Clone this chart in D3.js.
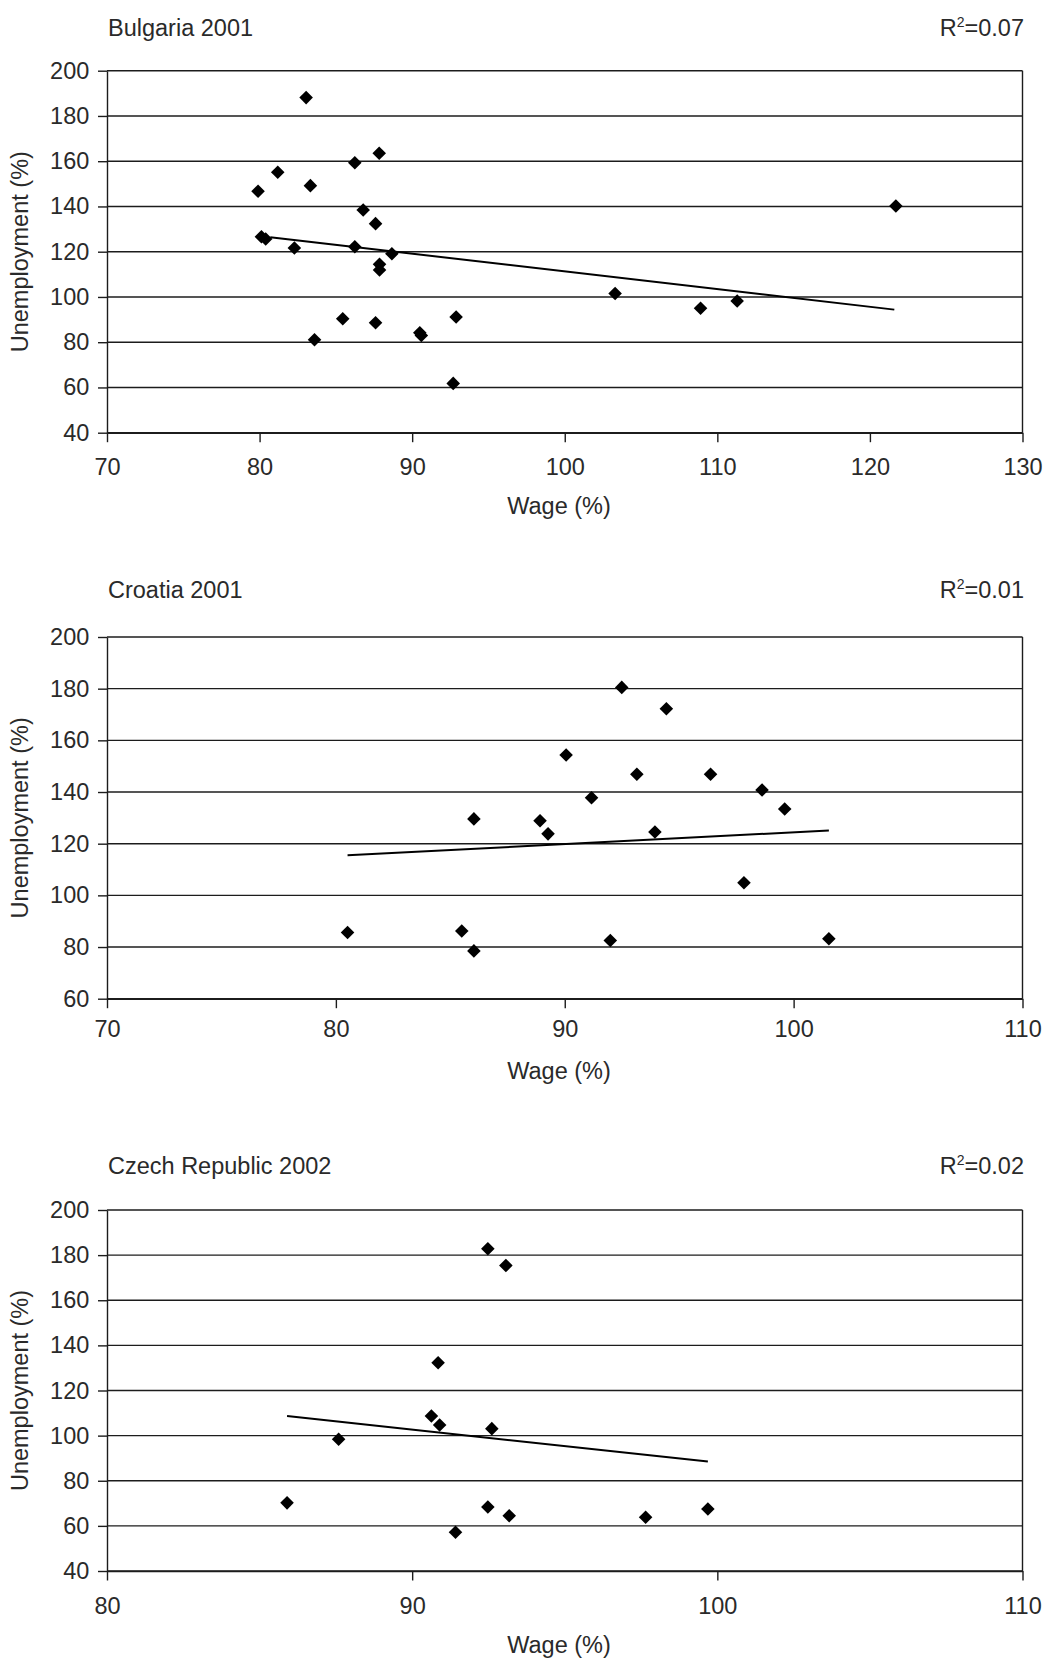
<!DOCTYPE html>
<html>
<head>
<meta charset="utf-8">
<script src="https://cdn.jsdelivr.net/npm/d3@7"></script>
<style>
  html, body { margin: 0; padding: 0; background: #fff; }
  svg { display: block; }
</style>
</head>
<body>
<svg id="chart" width="1048" height="1662"></svg>
<script>
// ---------------- DATA ----------------
const bulgariaWage  = [83.05, 87.84, 86.24, 81.19, 83.33, 79.9, 86.79, 87.6, 80.12, 80.4, 82.28, 86.24, 88.67, 87.86, 87.86, 83.6, 85.45, 87.6, 90.5, 90.6, 92.88, 92.69, 103.3, 108.9, 111.3, 121.7];
const bulgariaUnemp = [188.1, 163.5, 159.3, 155.1, 149.2, 146.7, 138.4, 132.4, 126.6, 125.6, 121.6, 122.2, 119.1, 114.4, 111.9, 81.1, 90.4, 88.6, 84.2, 83.0, 91.1, 61.8, 101.5, 95.0, 98.2, 140.2];
const bulgariaTrend = [[80.7, 126.4], [121.6, 94.4]];
const bulgariaXTicks = [70, 80, 90, 100, 110, 120, 130];
const bulgariaYTicks = [40, 60, 80, 100, 120, 140, 160, 180, 200];

const croatiaWage  = [92.49, 94.44, 90.06, 93.15, 96.37, 98.62, 91.17, 99.61, 86.03, 88.92, 89.27, 93.94, 97.83, 80.51, 85.5, 86.03, 91.99, 101.54];
const croatiaUnemp = [180.5, 172.2, 154.3, 146.9, 146.9, 140.8, 137.8, 133.4, 129.6, 128.9, 123.8, 124.5, 104.9, 85.6, 86.2, 78.5, 82.5, 83.2];
const croatiaTrend = [[80.51, 115.5], [101.54, 125.1]];
const croatiaXTicks = [70, 80, 90, 100, 110];
const croatiaYTicks = [60, 80, 100, 120, 140, 160, 180, 200];

const czechWage  = [92.48, 93.07, 90.85, 90.63, 90.9, 92.61, 87.59, 85.9, 92.48, 93.18, 91.42, 97.65, 99.69];
const czechUnemp = [182.8, 175.4, 132.3, 108.7, 104.7, 103.1, 98.4, 70.2, 68.4, 64.5, 57.2, 63.8, 67.5];
const czechTrend = [[85.9, 108.7], [99.69, 88.5]];
const czechXTicks = [80, 90, 100, 110];
const czechYTicks = [40, 60, 80, 100, 120, 140, 160, 180, 200];

const titles = ["Bulgaria 2001", "Croatia 2001", "Czech Republic 2002"];
const rSquared = ["0.07", "0.01", "0.02"];
const xLabel = "Wage (%)";
const yLabel = "Unemployment (%)";

// ---------------- LAYOUT ----------------
const FONT = "'Liberation Sans', Arial, Helvetica, sans-serif";
const FS = 23.5;
const TEXT = "#2a2a2a";
const LINE = "#1c1c1c";
const X0 = 107, X1 = 1022.5;

const panels = [
  { title: titles[0], r2: rSquared[0], wage: bulgariaWage, unemp: bulgariaUnemp, trend: bulgariaTrend,
    xTicks: bulgariaXTicks, yTicks: bulgariaYTicks, top: 70.7, bottom: 432.7,
    titleY: 35.7, xPad: 16, wageY: 514 },
  { title: titles[1], r2: rSquared[1], wage: croatiaWage, unemp: croatiaUnemp, trend: croatiaTrend,
    xTicks: croatiaXTicks, yTicks: croatiaYTicks, top: 637, bottom: 998.7,
    titleY: 597.7, xPad: 12.4, wageY: 1079 },
  { title: titles[2], r2: rSquared[2], wage: czechWage, unemp: czechUnemp, trend: czechTrend,
    xTicks: czechXTicks, yTicks: czechYTicks, top: 1210, bottom: 1571,
    titleY: 1174.3, xPad: 16.7, wageY: 1653 }
];

const svg = d3.select("#chart");
const diamond = d3.symbol().type(d3.symbolSquare).size(92);

panels.forEach(p => {
  const x = d3.scaleLinear().domain(d3.extent(p.xTicks)).range([X0, X1]);
  const y = d3.scaleLinear().domain(d3.extent(p.yTicks)).range([p.bottom, p.top]);
  const g = svg.append("g");

  // title + R²
  g.append("text").attr("x", 108).attr("y", p.titleY)
    .attr("font-family", FONT).attr("font-size", FS).attr("fill", TEXT)
    .text(p.title);
  const r = g.append("text").attr("x", 1024).attr("y", p.titleY).attr("text-anchor", "end")
    .attr("font-family", FONT).attr("font-size", FS).attr("fill", TEXT);
  r.append("tspan").text("R");
  r.append("tspan").attr("font-size", 14).attr("dy", -9).text("2");
  r.append("tspan").attr("dy", 9).text("=" + p.r2);

  // horizontal gridlines
  g.selectAll("line.grid").data(p.yTicks).join("line")
    .attr("x1", X0).attr("x2", X1)
    .attr("y1", d => y(d)).attr("y2", d => y(d))
    .attr("stroke", LINE).attr("stroke-width", 1.4);
  // right border
  g.append("line").attr("x1", X1).attr("x2", X1).attr("y1", y.range()[1]).attr("y2", y.range()[0])
    .attr("stroke", LINE).attr("stroke-width", 1.4);

  // axes
  const ay = g.append("g").attr("transform", `translate(${X0},0)`)
    .call(d3.axisLeft(y).tickValues(p.yTicks).tickSize(9).tickSizeOuter(0).tickPadding(8.7));
  const ax = g.append("g").attr("transform", `translate(0,${p.bottom})`)
    .call(d3.axisBottom(x).tickValues(p.xTicks).tickSize(9.5).tickSizeOuter(0).tickPadding(p.xPad));
  [ay, ax].forEach(a => {
    a.attr("font-family", FONT).attr("font-size", FS);
    a.selectAll("path.domain").attr("stroke", LINE).attr("stroke-width", 1.4);
    a.selectAll(".tick line").attr("stroke", LINE).attr("stroke-width", 1.4);
    a.selectAll(".tick text").attr("fill", TEXT);
  });

  // trend line
  g.append("path").datum(p.trend)
    .attr("d", d3.line().x(d => x(d[0])).y(d => y(d[1])))
    .attr("fill", "none").attr("stroke", "#000").attr("stroke-width", 2);

  // points
  const pts = p.wage.map((w, i) => [w, p.unemp[i]]);
  g.selectAll("path.pt").data(pts).join("path")
    .attr("d", diamond)
    .attr("transform", d => `translate(${x(d[0])},${y(d[1])}) rotate(45)`)
    .attr("fill", "#000");

  // axis labels
  g.append("text").attr("x", 559).attr("y", p.wageY).attr("text-anchor", "middle")
    .attr("font-family", FONT).attr("font-size", FS).attr("fill", TEXT).text(xLabel);
  const cy = (p.top + p.bottom) / 2;
  g.append("text").attr("transform", `translate(27.5,${cy}) rotate(-90)`).attr("text-anchor", "middle")
    .attr("font-family", FONT).attr("font-size", FS).attr("fill", TEXT).text(yLabel);
});
</script>
</body>
</html>
